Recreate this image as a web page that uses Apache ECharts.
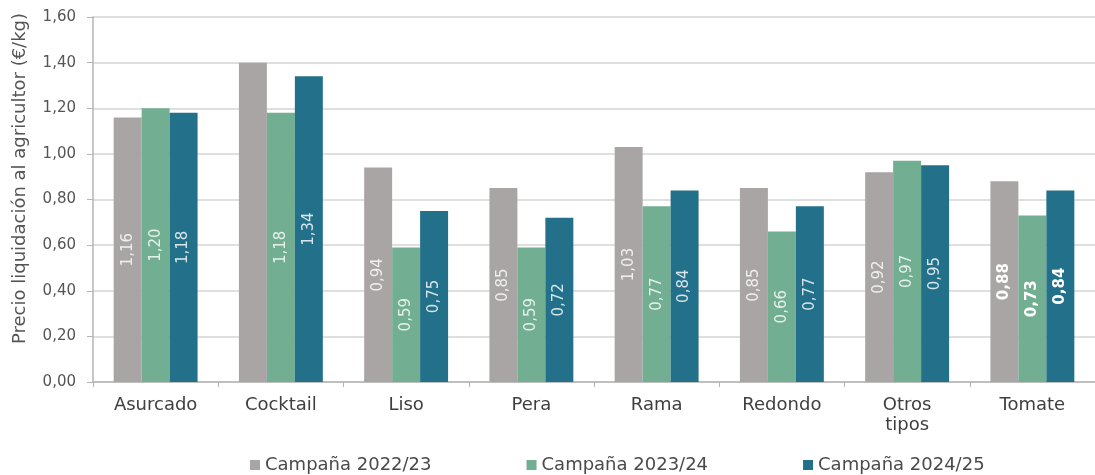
<!DOCTYPE html>
<html>
<head>
<meta charset="utf-8">
<script src="https://cdn.jsdelivr.net/npm/echarts@6/dist/echarts.min.js"></script>
<style>
  html, body { margin: 0; padding: 0; background: #ffffff; }
  #chart { width: 1095px; height: 475px; }
</style>
</head>
<body>
<div id="chart"></div>
<script>
// Tipos de tomate
const categories = ['Asurcado', 'Cocktail', 'Liso', 'Pera', 'Rama', 'Redondo', 'Otros\ntipos', 'Tomate'];

// Precio de liquidación al agricultor (€/kg) por campaña
const campaign2223 = [1.16, 1.40, 0.94, 0.85, 1.03, 0.85, 0.92, 0.88];
const campaign2324 = [1.20, 1.18, 0.59, 0.59, 0.77, 0.66, 0.97, 0.73];
const campaign2425 = [1.18, 1.34, 0.75, 0.72, 0.84, 0.77, 0.95, 0.84];

const seriesNames = ['Campaña 2022/23', 'Campaña 2023/24', 'Campaña 2024/25'];
const yTicks = ['0,00', '0,20', '0,40', '0,60', '0,80', '1,00', '1,20', '1,40', '1,60'];

// Etiquetas ocultas (índices de categoría sin rótulo)
const hiddenLabels2223 = [1];

const FONT = '"DejaVu Sans", Verdana, sans-serif';
const colors = ['#a9a5a5', '#72ae91', '#22708a'];

const fmt = v => v.toFixed(2).replace('.', ',');

function buildData(values, hidden) {
  return values.map((v, i) => {
    const item = { value: v };
    if (hidden && hidden.includes(i)) item.label = { show: false };
    // La columna "Tomate" (total) lleva el rótulo en negrita
    if (i === values.length - 1) item.label = Object.assign({}, item.label, { fontWeight: 'bold', color: '#ffffff' });
    return item;
  });
}

const labelStyle = {
  show: true,
  position: 'inside',
  rotate: 90,
  color: 'rgba(255,255,255,0.82)',
  fontFamily: FONT,
  fontSize: 15,
  formatter: p => fmt(p.value)
};

const chart = echarts.init(document.getElementById('chart'), null, { renderer: 'canvas' });

chart.setOption({
  animation: false,
  backgroundColor: '#ffffff',
  color: colors,
  grid: { left: 93, top: 17, width: 1008, height: 365, containLabel: false },
  legend: {
    top: 451,
    left: 245,
    itemWidth: 10,
    itemHeight: 10,
    itemGap: 95,
    icon: 'rect',
    textStyle: { fontFamily: FONT, fontSize: 18, color: '#4a4a4a' },
    data: seriesNames
  },
  xAxis: {
    type: 'category',
    data: categories,
    axisLine: { lineStyle: { color: '#b5b5b5', width: 1.5 } },
    axisTick: { show: true, alignWithLabel: false, length: 5, lineStyle: { color: '#b5b5b5' } },
    axisLabel: { fontFamily: FONT, fontSize: 18, color: '#3f3f3f', margin: 13, lineHeight: 20 }
  },
  yAxis: {
    type: 'value',
    min: 0,
    max: 1.6,
    interval: 0.2,
    name: 'Precio liquidación al agricultor (€/kg)',
    nameLocation: 'middle',
    nameGap: 64,
    nameTextStyle: { fontFamily: FONT, fontSize: 18, color: '#555555', padding: [0, 0, 0, 42] },
    axisLine: { show: true, lineStyle: { color: '#b5b5b5', width: 1.5 } },
    axisTick: { show: true, length: 6, lineStyle: { color: '#b5b5b5' } },
    axisLabel: {
      fontFamily: FONT, fontSize: 15, color: '#555555', margin: 17,
      formatter: v => yTicks[Math.round(v / 0.2)]
    },
    splitLine: { lineStyle: { color: '#d4d4d4', width: 1.5 } }
  },
  series: [
    {
      name: seriesNames[0], type: 'bar', barGap: '0%', barCategoryGap: '33%',
      data: buildData(campaign2223, hiddenLabels2223), label: labelStyle
    },
    {
      name: seriesNames[1], type: 'bar', barGap: '0%', barCategoryGap: '33%',
      data: buildData(campaign2324), label: labelStyle
    },
    {
      name: seriesNames[2], type: 'bar', barGap: '0%', barCategoryGap: '33%',
      data: buildData(campaign2425), label: labelStyle
    }
  ]
});
</script>
</body>
</html>
